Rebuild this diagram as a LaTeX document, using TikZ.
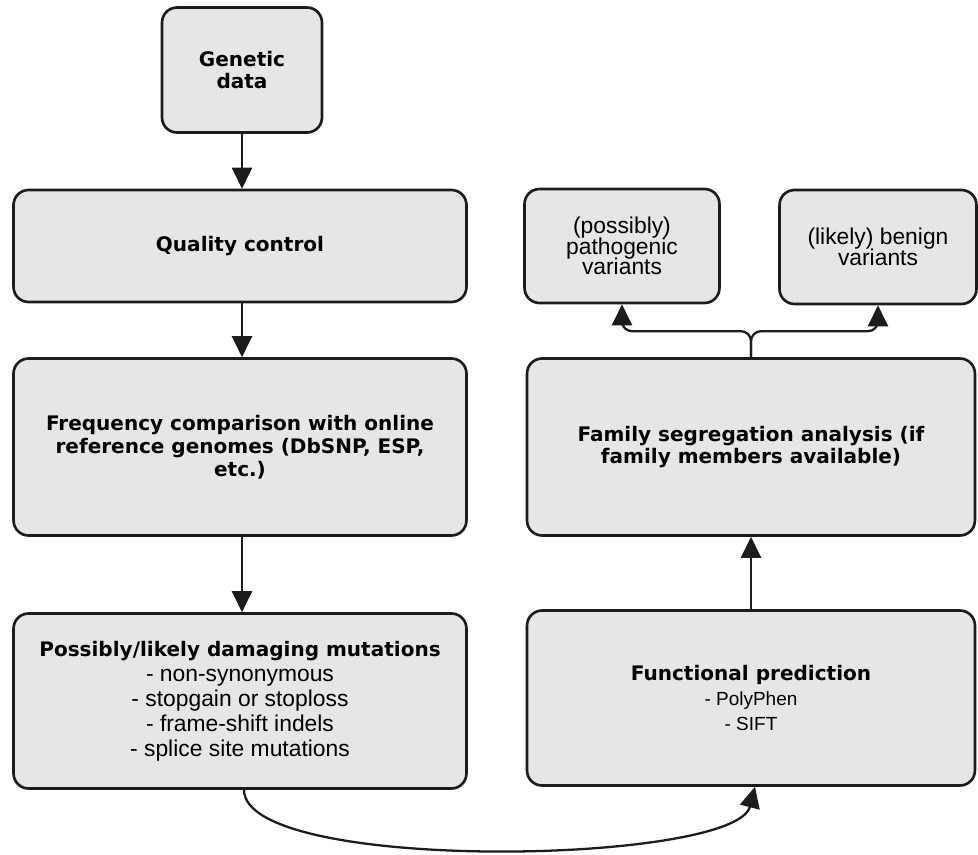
\documentclass[tikz,border=0pt]{standalone}
\usepackage{fontspec}
\setmainfont{Liberation Sans}
\newfontfamily\headfam{DejaVu Sans}
\usetikzlibrary{arrows.meta}
\definecolor{boxgray}{HTML}{E6E6E6}
\definecolor{edge}{HTML}{1C1C1C}
\newcommand{\hdfont}{\headfam\bfseries\fontsize{11.4}{13}\selectfont}
\newcommand{\rgfont}{\fontsize{13}{14.2}\selectfont}
\newcommand{\smfont}{\fontsize{10.8}{12.8}\selectfont}

\begin{document}
\begin{tikzpicture}[x=0.02cm, y=-0.02cm,
		box/.style={draw=edge, fill=boxgray, line width=1.5pt, rounded corners=0.3cm, align=center, font=\rgfont},
		head/.style={box, font=\hdfont},
		arr/.style={-{Triangle[width=0.4cm,length=0.42cm]}, line width=1.3pt, draw=edge}]
		\useasboundingbox (0,0) rectangle (978,855);
		% left column
		\node[head, minimum width=3.2cm, minimum height=2.5cm] (gen) at (242,70) {Genetic\\data};
		\node[head, minimum width=9.06cm, minimum height=2.24cm] (qc) at (240,246) {Quality control};
		\node[head, minimum width=9.06cm, minimum height=3.54cm] (freq) at (240,447) {Frequency comparison with online\\reference genomes (DbSNP, ESP,\\etc.)};
		\node[box, minimum width=9.06cm, minimum height=3.5cm] (dmg) at (240,701) {{\hdfont Possibly/likely damaging mutations}\\- non-synonymous\\- stopgain or stoploss\\- frame-shift indels\\- splice site mutations};
		% right column
		\node[box, minimum width=3.9cm, minimum height=2.28cm] (path) at (622,246) {(possibly)\\[-2.5pt]pathogenic\\[-2.5pt]variants};
		\node[box, minimum width=3.94cm, minimum height=2.28cm] (benign) at (878,247) {(likely) benign\\[-2.5pt]variants};
		\node[head, minimum width=8.96cm, minimum height=3.54cm] (fam) at (751,447) {Family segregation analysis (if\\family members available)};
		\node[box, minimum width=8.96cm, minimum height=3.5cm] (func) at (751,698) {{\hdfont Functional prediction}\\{\smfont - PolyPhen}\\{\smfont - SIFT}};

		\draw[arr] (gen.south -| 242,0) -- (qc.north -| 242,0);
		\draw[arr] (qc.south -| 242,0) -- (freq.north -| 242,0);
		\draw[arr] (freq.south -| 242,0) -- (dmg.north -| 242,0);
		\draw[arr] (func) -- (fam);
		\draw[arr, rounded corners=0.2cm] (fam.north) -- ++(0,-26) -| (path.south);
		\draw[arr, rounded corners=0.2cm] (fam.north) -- ++(0,-26) -| (benign.south);
		\draw[arr] (dmg.south -| 244,0) .. controls +(0,84) and +(-20,78) .. (func.south -| 755,0);
	\end{tikzpicture}
\end{document}
